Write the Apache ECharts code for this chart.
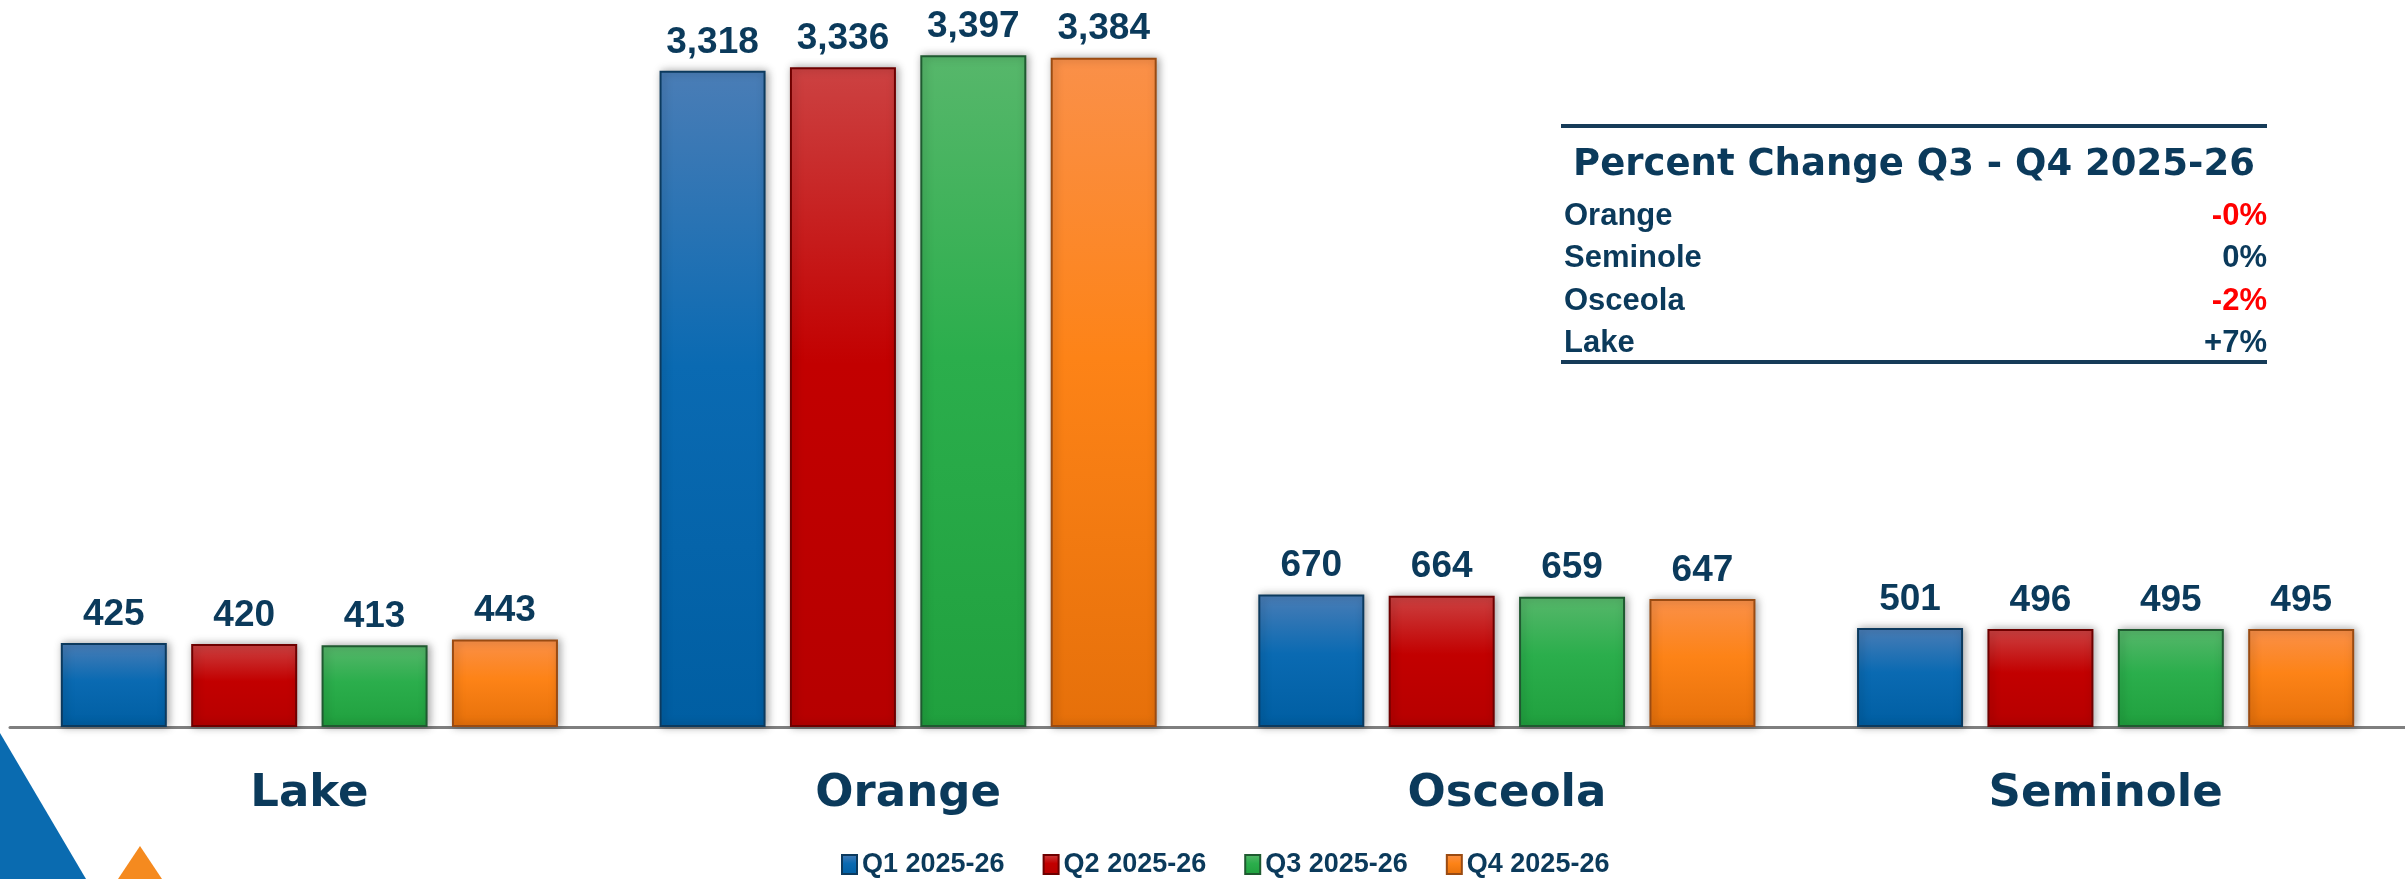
<!DOCTYPE html>
<html><head><meta charset="utf-8">
<script src="https://cdn.jsdelivr.net/npm/echarts@6/dist/echarts.min.js"></script>
<style>html,body{margin:0;padding:0;background:#fff}#c{width:2405px;height:879px}</style>
</head><body><div id="c"></div>
<script>
const categories = ['Lake', 'Orange', 'Osceola', 'Seminole'];
const seriesNames = ['Q1 2025-26', 'Q2 2025-26', 'Q3 2025-26', 'Q4 2025-26'];
const q1 = [425, 3318, 670, 501];
const q2 = [420, 3336, 664, 496];
const q3 = [413, 3397, 659, 495];
const q4 = [443, 3384, 647, 495];
const tableTitle = 'Percent Change Q3 - Q4 2025-26';
const tableCounties = ['Orange', 'Seminole', 'Osceola', 'Lake'];
const tableChanges = ['-0%', '0%', '-2%', '+7%'];

const NAVY = '#0b3a5b';
const NARROW = "'Liberation Sans Narrow', 'Arial Narrow', 'Liberation Sans', Arial, sans-serif";
const HEAVY = "'DejaVu Sans', 'Liberation Sans', sans-serif";

const palettes = [
  { stops: ['#4a7db6', '#0a6ab2', '#005ea2'], border: '#0c3a5e' },
  { stops: ['#cc4242', '#c20000', '#b60000'], border: '#6e0000' },
  { stops: ['#57b76b', '#2bae4c', '#20a03e'], border: '#1f5a30' },
  { stops: ['#fa9049', '#fd8317', '#e6700a'], border: '#9a4b12' }
];
const values = [q1, q2, q3, q4];

const series = values.map((vals, i) => ({
  name: seriesNames[i],
  type: 'bar',
  data: vals,
  barWidth: 106,
  barGap: '23%',
  itemStyle: {
    color: new echarts.graphic.LinearGradient(0, 0, 0, 1, [
      { offset: 0, color: palettes[i].stops[0] },
      { offset: 0.45, color: palettes[i].stops[1] },
      { offset: 1, color: palettes[i].stops[2] }
    ]),
    borderColor: palettes[i].border,
    borderWidth: 2,
    shadowBlur: 8,
    shadowColor: 'rgba(0,0,0,0.35)',
    shadowOffsetX: 2
  },
  label: {
    show: true,
    position: 'top',
    distance: 10,
    color: NAVY,
    fontFamily: NARROW,
    fontWeight: 'bold',
    fontSize: 37,
    formatter: p => p.value.toLocaleString('en-US')
  }
}));

const graphics = [
  { type: 'polygon', shape: { points: [[0, 733], [86, 879], [0, 879]] }, style: { fill: '#0a6bb0' }, z: 10 },
  { type: 'polygon', shape: { points: [[140, 846], [162, 879], [118, 879]] }, style: { fill: '#f58a1f' }, z: 10 },
  { type: 'rect', shape: { x: 1561, y: 124, width: 706, height: 4 }, style: { fill: '#163b58' } },
  { type: 'rect', shape: { x: 1561, y: 360, width: 706, height: 4 }, style: { fill: '#163b58' } },
  { type: 'text', x: 1914, y: 165, style: { text: tableTitle, fill: NAVY, font: "bold 37px 'DejaVu Sans', sans-serif", textAlign: 'center', textVerticalAlign: 'middle' } }
];
tableCounties.forEach((name, i) => {
  const y = 216 + i * 42.5;
  graphics.push({ type: 'text', x: 1564, y: y, style: { text: name, fill: NAVY, font: "bold 31px 'Liberation Sans', sans-serif", textAlign: 'left', textVerticalAlign: 'middle' } });
  graphics.push({ type: 'text', x: 2267, y: y, style: { text: tableChanges[i], fill: tableChanges[i].startsWith('-') ? '#ff0000' : NAVY, font: "bold 31px 'Liberation Sans', sans-serif", textAlign: 'right', textVerticalAlign: 'middle' } });
});

const chart = echarts.init(document.getElementById('c'));
chart.setOption({
  backgroundColor: '#ffffff',
  animation: false,
  grid: { left: 10, right: 0, top: 21, bottom: 152 },
  xAxis: {
    type: 'category',
    data: categories,
    axisLine: { show: true, lineStyle: { color: '#7f7f7f', width: 3 } },
    axisTick: { show: false },
    axisLabel: { color: NAVY, fontFamily: HEAVY, fontWeight: 'bold', fontSize: 45, margin: 45 }
  },
  yAxis: { type: 'value', min: 0, max: 3570, show: false, splitLine: { show: false } },
  legend: {
    data: seriesNames,
    left: 836,
    top: 846,
    icon: 'rect',
    itemWidth: 15,
    itemHeight: 19,
    itemGap: 38,
    textStyle: { color: NAVY, fontFamily: NARROW, fontWeight: 'bold', fontSize: 27 }
  },
  graphic: graphics,
  series: series
});
</script>
</body></html>
